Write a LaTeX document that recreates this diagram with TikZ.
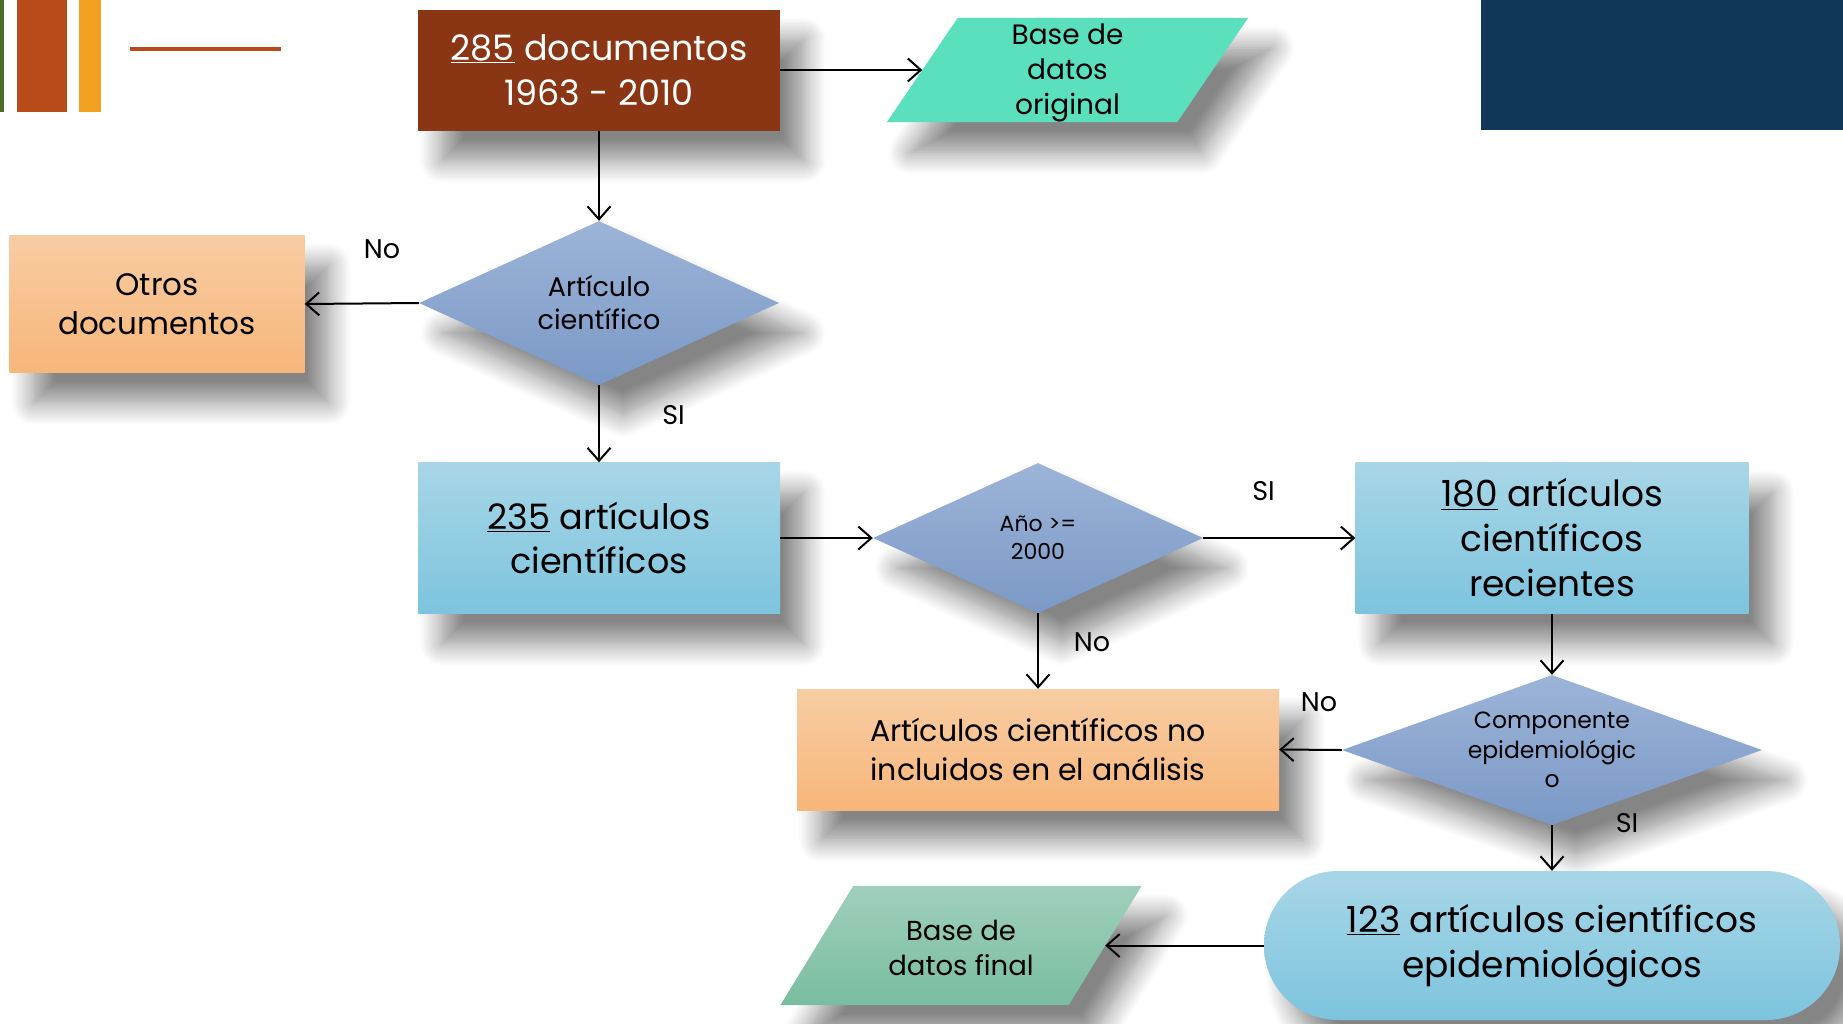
\documentclass[tikz,border=0pt]{standalone}
\usepackage{fontspec}
\setmainfont{Poppins}
\usetikzlibrary{shapes.geometric,shadows.blur,arrows.meta,calc}
\pgfdeclarelayer{background}
\pgfsetlayers{background,main}
\definecolor{brownbox}{HTML}{8A3614}
\definecolor{turq}{HTML}{5BE0BE}
\definecolor{diaTop}{HTML}{9DB4D8}
\definecolor{diaBot}{HTML}{7A99C6}
\definecolor{peachTop}{HTML}{F8CDA4}
\definecolor{peachBot}{HTML}{F8B67A}
\definecolor{blueTop}{HTML}{A8D6E7}
\definecolor{blueBot}{HTML}{7DC4DE}
\definecolor{greenTop}{HTML}{A0CFBB}
\definecolor{greenBot}{HTML}{79BDA0}
\definecolor{navy}{HTML}{10365A}
\definecolor{decoGreen}{HTML}{4E6B2B}
\definecolor{decoBrown}{HTML}{B94A1A}
\definecolor{decoOrange}{HTML}{F2A01F}
\begin{document}
\begin{tikzpicture}[x=1pt,y=-1pt,
  sh/.style={blur shadow={shadow xshift=24pt,shadow yshift=-30pt,shadow blur radius=22pt,shadow blur steps=12,shadow opacity=48}},
  box/.style={rectangle,inner sep=0pt,align=center,sh},
  dia/.style={diamond,inner sep=0pt,align=center,top color=diaTop,bottom color=diaBot,sh},
  paratext/.style={rectangle,inner sep=0pt,align=center},
  conn/.style={draw=black,line width=2pt,-{Straight Barb[length=13pt,width=23pt]}},
  lbl/.style={inner sep=0pt,font=\fontsize{27}{32}\selectfont}
]
\useasboundingbox (0,0) rectangle (1843,1023);
% decorations
\fill[decoGreen] (0,0) rectangle (4,112);
\fill[decoBrown] (17,0) rectangle (67,112);
\fill[decoOrange] (79,0) rectangle (101,112);
\fill[decoBrown] (130,47) rectangle (281,51);
\fill[navy] (1481,0) rectangle (1843,130);

% nodes
\node[box,fill=brownbox,text=white,minimum width=362pt,minimum height=121pt,font=\fontsize{35}{45}\selectfont] (b285) at (599,70) {\underline{285} documentos\\1963 - 2010};
\node[paratext,minimum width=290pt,minimum height=104pt,font=\fontsize{28}{35}\selectfont] (bdo) at (1067.5,73) {Base de\\datos\\original};
\node[dia,aspect=2.2,minimum width=360pt,minimum height=164pt,font=\fontsize{27}{33}\selectfont] (d1) at (599,303) {Artículo\\científico};
\node[box,top color=peachTop,bottom color=peachBot,minimum width=295pt,minimum height=137pt,font=\fontsize{31}{39}\selectfont] (otros) at (157,304) {Otros\\documentos};
\node[box,top color=blueTop,bottom color=blueBot,minimum width=362pt,minimum height=151pt,font=\fontsize{35}{44}\selectfont] (b235) at (599,538) {\underline{235} artículos\\científicos};
\node[dia,aspect=2.2,minimum width=330pt,minimum height=150pt,font=\fontsize{22}{28}\selectfont] (d2) at (1038,538) {Año >=\\2000};
\node[box,top color=blueTop,bottom color=blueBot,minimum width=393pt,minimum height=151pt,font=\fontsize{36}{45}\selectfont] (b180) at (1552,538) {\underline{180} artículos\\científicos\\recientes};
\node[box,top color=peachTop,bottom color=peachBot,minimum width=482pt,minimum height=121pt,font=\fontsize{30}{39}\selectfont] (noinc) at (1038,749.5) {Artículos científicos no\\incluidos en el análisis};
\node[dia,aspect=2.8,minimum width=420pt,minimum height=150pt,font=\fontsize{23.5}{29.5}\selectfont] (d3) at (1552,750) {Componente\\epidemiológic\\o};
\node[box,top color=blueTop,bottom color=blueBot,rounded corners=74pt,minimum width=576pt,minimum height=149pt,font=\fontsize{36}{45}\selectfont] (b123) at (1552,945.5) {\underline{123} artículos científicos\\epidemiológicos};
\node[paratext,minimum width=288pt,minimum height=119pt,font=\fontsize{27.5}{35}\selectfont] (bdf) at (961,947.5) {Base de\\datos final};

% parallelogram bodies (behind their texts)
\begin{pgfonlayer}{background}
\fill[turq,sh] ($(bdo.north west)+(35.5,-3)$) -- ($(bdo.north east)+(35.5,-3)$)
  -- ($(bdo.south east)+(-35.5,-3)$) -- ($(bdo.south west)+(-35.5,-3)$) -- cycle;
\path[top color=greenTop,bottom color=greenBot,sh] ($(bdf.north west)+(36.5,-2)$) -- ($(bdf.north east)+(36.5,-2)$)
  -- ($(bdf.south east)+(-36.5,-2)$) -- ($(bdf.south west)+(-36.5,-2)$) -- cycle;
\end{pgfonlayer}

% labels
\node[lbl] (l1) at (382,249) {No};
\node[lbl] (l2) at (673.5,415) {SI};
\node[lbl] (l3) at (1263.5,491) {SI};
\node[lbl] (l4) at (1092,642) {No};
\node[lbl] (l5) at (1319,702) {No};
\node[lbl] (l6) at (1627,823) {SI};

% connectors
\draw[conn] (b285.east) -- (b285.east -| bdo.west);
\draw[conn] (b285.south) -- (d1.north);
\draw[conn] (d1.west) -- (otros.east);
\draw[conn] (d1.south) -- (b235.north);
\draw[conn] (b235.east) -- (d2.west);
\draw[conn] (d2.east) -- (b180.west);
\draw[conn] (d2.south) -- (noinc.north);
\draw[conn] (b180.south) -- (d3.north);
\draw[conn] (d3.west) -- (noinc.east);
\draw[conn] (d3.south) -- (b123.north);
\draw[conn] (b123.west) -- (b123.west -| bdf.east);
\end{tikzpicture}
\end{document}
